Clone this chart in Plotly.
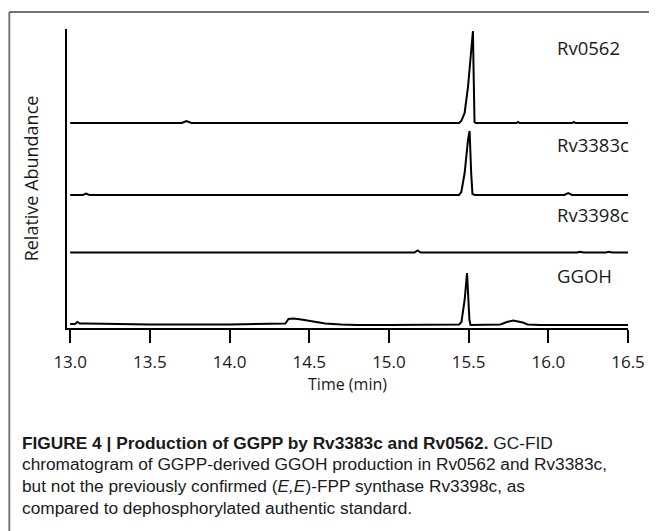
import plotly.graph_objects as go

# ---------------- data ----------------
time_rv0562 = [13.0, 13.40, 13.70, 13.73, 13.76, 14.20, 14.80, 15.20, 15.44, 15.454, 15.475,
               15.496, 15.516, 15.527, 15.532, 15.537, 15.545, 15.80, 15.81, 15.82, 16.15,
               16.16, 16.17, 16.5]
sig_rv0562 = [0, 0, 0, 2, 0, 0, 0, 0.5, 0, 2, 10,
              36, 76, 92, 45, 1, 0, 0, 1, 0, 0,
              1, 0, 0]

time_rv3383c = [13.0, 13.08, 13.10, 13.12, 14.0, 15.0, 15.44, 15.454, 15.475, 15.496,
                15.506, 15.516, 15.524, 15.54, 16.10, 16.125, 16.15, 16.5]
sig_rv3383c = [0, 0, 1.5, 0, 0, 0, 0, 3, 22, 55,
               64, 22, 1, 0, 0, 2, 0, 0]

time_rv3398c = [13.0, 14.30, 15.16, 15.18, 15.20, 16.18, 16.20, 16.22, 16.36, 16.38, 16.40, 16.5]
sig_rv3398c = [0, 0, 0, 2, 0, 0, 0.8, 0, 0, 0.8, 0, 0]

time_ggoh = [13.0, 13.03, 13.045, 13.06, 13.10, 13.40, 13.50, 14.0, 14.30, 14.35, 14.37,
             14.40, 14.45, 14.50, 14.60, 14.70, 14.80, 15.0, 15.44, 15.455, 15.475, 15.49,
             15.497, 15.505, 15.512, 15.60, 15.70, 15.74, 15.78, 15.81, 15.84, 15.87, 15.95, 16.5]
sig_ggoh = [1, 1, 3, 1.5, 1.5, 1, 0.5, 0.5, 1, 1.5, 6,
            6.5, 5.5, 4, 1.5, 0.5, 0, 0, 0.5, 3, 25, 52,
            35, 5, 0, 0, 0.5, 3, 4.5, 3.5, 2.5, 0.5, 0, 0]

trace_names = ["Rv0562", "Rv3383c", "Rv3398c", "GGOH"]
x_ticks = [13.0, 13.5, 14.0, 14.5, 15.0, 15.5, 16.0, 16.5]
x_tick_labels = ["13.0", "13.5", "14.0", "14.5", "15.0", "15.5", "16.0", "16.5"]

caption_lines = [
    "<b>FIGURE 4 | Production of GGPP by Rv3383c and Rv0562.</b> GC-FID",
    "chromatogram of GGPP-derived GGOH production in Rv0562 and Rv3383c,",
    "but not the previously confirmed (<i>E,E</i>)-FPP synthase Rv3398c, as",
    "compared to dephosphorylated authentic standard.",
]

# ---------------- layout constants ----------------
WIN_W, WIN_H = 657, 531      # browser window
OFF = 8                      # default page (body) margin in the browser
W, H = WIN_W - OFF, WIN_H - OFF
# plot-area edges in window pixels
L, R, T, B = 67, 631, 29, 328
PW, PH = R - L, B - T
Y_MAX = B - T                # 1 y-unit = 1 px


def px_x(px):
    return (px - L) / PW


def px_y(py):
    return (B - py) / PH


offsets = {"Rv0562": 205, "Rv3383c": 133, "Rv3398c": 75.5, "GGOH": 3}
label_y_px = {"Rv0562": 48, "Rv3383c": 144, "Rv3398c": 214, "GGOH": 275}

series = {
    "Rv0562": (time_rv0562, sig_rv0562),
    "Rv3383c": (time_rv3383c, sig_rv3383c),
    "Rv3398c": (time_rv3398c, sig_rv3398c),
    "GGOH": (time_ggoh, sig_ggoh),
}

FONT = "Open Sans, Noto Sans, sans-serif"
CAP_FONT = "Liberation Sans, Arial, sans-serif"
TXT = "#1a1a1a"

fig = go.Figure()
for name in trace_names:
    t, s = series[name]
    fig.add_trace(go.Scatter(
        x=t, y=[v + offsets[name] for v in s], mode="lines", name=name,
        line=dict(color="black", width=2), showlegend=False, hoverinfo="skip"))

annotations = []
for name in trace_names:
    annotations.append(dict(
        x=px_x(558), y=px_y(label_y_px[name]), xref="paper", yref="paper",
        text=name, showarrow=False, xanchor="left", yanchor="middle",
        font=dict(family=FONT, size=18.5, color=TXT)))

cap_y = [443, 464, 486, 508]
for line, yy in zip(caption_lines, cap_y):
    annotations.append(dict(
        x=px_x(20), y=px_y(yy), xref="paper", yref="paper", text=line,
        showarrow=False, xanchor="left", yanchor="middle",
        font=dict(family=CAP_FONT, size=17.3, color=TXT)))

shapes = [
    dict(type="line", xref="paper", yref="paper", x0=px_x(9), x1=px_x(9),
         y0=px_y(12), y1=px_y(WIN_H + 5), line=dict(color="#7a7a7a", width=2)),
    dict(type="line", xref="paper", yref="paper", x0=px_x(9), x1=px_x(WIN_W + 5),
         y0=px_y(12), y1=px_y(12), line=dict(color="#444444", width=1.5)),
]

fig.update_layout(
    width=W, height=H,
    margin=dict(l=L - OFF, r=WIN_W - R, t=T - OFF, b=WIN_H - B, pad=0),
    paper_bgcolor="white", plot_bgcolor="white",
    annotations=annotations, shapes=shapes,
    xaxis=dict(
        range=[12.98, 16.5], tickvals=x_ticks, ticktext=x_tick_labels,
        ticks="outside", ticklen=13, tickwidth=2, tickcolor="black",
        ticklabelstandoff=5,
        showline=True, linewidth=2, linecolor="black",
        showgrid=False, zeroline=False,
        tickfont=dict(family=FONT, size=17, color=TXT),
        title=dict(text="Time (min)", standoff=0,
                   font=dict(family=FONT, size=16, color=TXT)),
    ),
    yaxis=dict(
        range=[0, Y_MAX], showticklabels=False, ticks="",
        showline=True, linewidth=2, linecolor="black",
        showgrid=False, zeroline=False,
        title=dict(text="Relative Abundance", standoff=22,
                   font=dict(family=FONT, size=18, color=TXT)),
    ),
)

fig.write_html("out.html")
